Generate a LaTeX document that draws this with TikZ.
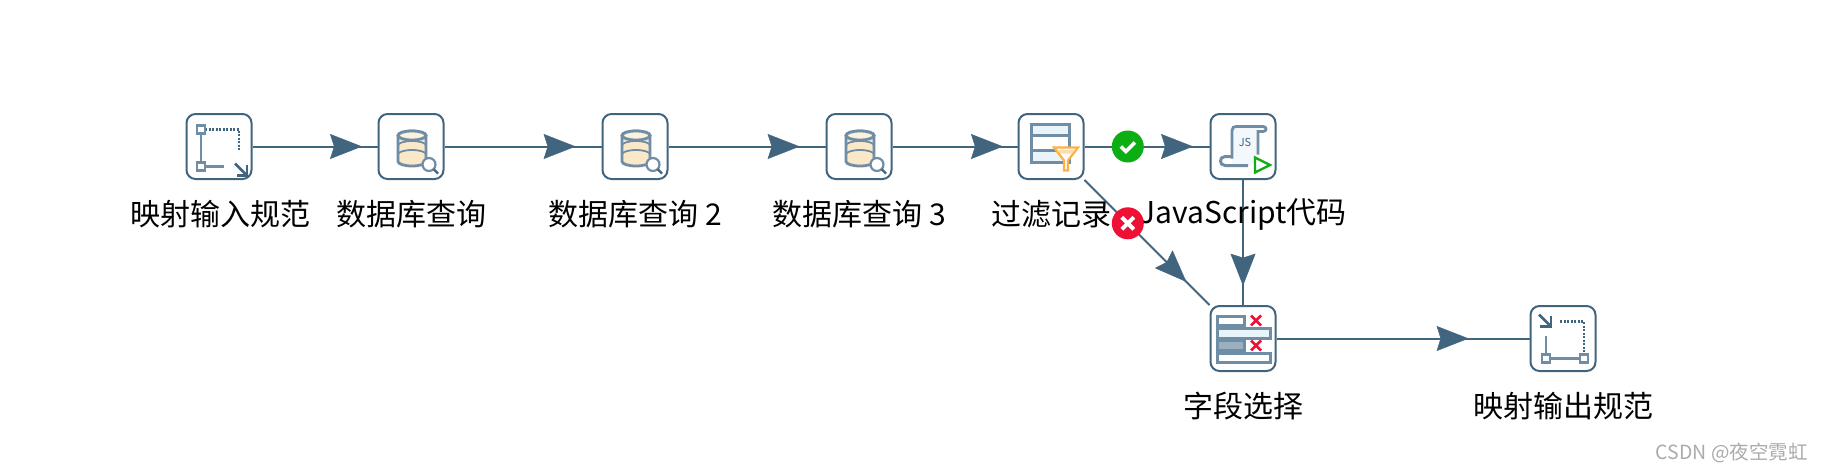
\documentclass[tikz,border=0pt]{standalone}
\usepackage{fontspec}
\setmainfont{Noto Sans CJK SC}
\usetikzlibrary{arrows.meta,decorations.markings,calc}
\definecolor{steel}{HTML}{41647F}
\definecolor{soft}{HTML}{6F8DA5}
\definecolor{cream}{HTML}{FBE8C8}
\definecolor{pale}{HTML}{E9F3FA}
\definecolor{okgreen}{HTML}{0DAE14}
\definecolor{badred}{HTML}{EE1135}
\definecolor{funnel}{HTML}{FDB045}
\tikzset{
  stepbox/.style={draw=steel,line width=2pt,rounded corners=9pt,fill=white,minimum width=65pt,minimum height=65pt,inner sep=0pt},
  steplabel/.style={font=\fontsize{30}{36}\selectfont,text=black,inner sep=0pt,anchor=center},
  conn/.style={draw=steel,line width=2pt},
  badge/.style={circle,minimum size=32pt,inner sep=0pt},
  iconline/.style={draw=soft,line width=2.5pt},
  dots/.style={draw=steel,line width=2.5pt,dash pattern=on 2pt off 1.5pt},
  handlebox/.style={draw=soft,line width=2.8pt,fill=white},
}
\newcommand{\linkhead}[3]{%
  \path[postaction={decorate},decoration={markings,mark=at position #3 with {\arrow{Stealth[length=32pt,width=25pt,inset=4pt,color=steel]}}}] (#1.center) -- (#2.center);}
\newcommand{\link}[3]{\draw[conn] (#1) -- (#2);\linkhead{#1}{#2}{#3}}
\newcommand{\dbicon}[1]{\begin{scope}[shift={(#1.center)}]
  \filldraw[fill=cream,draw=soft,line width=2.8pt] (-13,-11) arc[start angle=180,end angle=360,x radius=14,y radius=4.5] -- (15,15) arc[start angle=0,end angle=180,x radius=14,y radius=4.5] -- cycle;
  \filldraw[fill=cream!60,draw=soft,line width=2.8pt] (1,-11) ellipse[x radius=14,y radius=4.5];
  \draw[draw=soft,line width=1.8pt] (-13,-1) arc[start angle=180,end angle=360,x radius=14,y radius=4.5];
  \draw[draw=soft,line width=1.8pt] (-13,8) arc[start angle=180,end angle=360,x radius=14,y radius=4.5];
  \filldraw[fill=white,draw=soft,line width=2.2pt] (18,18) circle[radius=6.5];
  \draw[draw=steel,line width=2.4pt] (22.5,22.5) -- (27,27);
\end{scope}}
\begin{document}
\begin{tikzpicture}[x=1pt,y=-1pt]
\fill[white] (0,0) rectangle (1824,471);
\useasboundingbox (0,0) rectangle (1824,471);
\node[stepbox] (s1) at (219,146.5) {};
\node[stepbox] (s2) at (411,146.5) {};
\node[stepbox] (s3) at (635,146.5) {};
\node[stepbox] (s4) at (859,146.5) {};
\node[stepbox] (s5) at (1051,146.5) {};
\node[stepbox] (s6) at (1243,146.5) {};
\node[stepbox] (s7) at (1243,338.5) {};
\node[stepbox] (s8) at (1563,338.5) {};
\link{s1}{s2}{.745}
\link{s2}{s3}{.735}
\link{s3}{s4}{.735}
\link{s4}{s5}{.75}
\link{s5}{s6}{.74}
\link{s5}{s7}{.705}
\link{s6}{s7}{.725}
\link{s7}{s8}{.705}
\node[steplabel] (l1) at (220,214) {映射输入规范};
\node[steplabel] (l2) at (411,214) {数据库查询};
\node[steplabel] (l3) at (635,214) {数据库查询 2};
\node[steplabel] (l4) at (859,214) {数据库查询 3};
\node[steplabel] (l5) at (1051,214) {过滤记录};
\node[steplabel] (l6) at (1243,214) {JavaScript代码};
\node[steplabel] (l7) at (1243,406) {字段选择};
\node[steplabel] (l8) at (1563,406) {映射输出规范};
% input icon
\begin{scope}[shift={(s1.center)}]
  \draw[iconline] (-18,-17) -- (-18,20) -- (5,20);
  \draw[dots] (-14,-17) -- (20,-17) -- (20,5);
  \filldraw[handlebox] (-22,-21) rectangle (-14,-13);
  \filldraw[handlebox] (-22,16) rectangle (-14,24);
  \draw[steel,line width=2.5pt] (16,17) -- (27,28);
  \draw[steel,line width=2.5pt] (28,18) -- (28,29) -- (18,29);
\end{scope}
\dbicon{s2}\dbicon{s3}\dbicon{s4}
% filter icon
\begin{scope}[shift={(s5.center)}]
  \fill[pale] (-20,-22) rectangle (18,16);
  \fill[white] (-20,-11) rectangle (18,4);
  \draw[soft,line width=3pt] (-20,-22) rectangle (18,16);
  \draw[soft,line width=2.4pt] (-20,-11) -- (18,-11) (-20,4) -- (18,4);
  \filldraw[fill=white,draw=funnel,line width=2.2pt] (3,1) -- (27,1) -- (17,14) -- (17,24) -- (13,24) -- (13,14) -- cycle;
  \fill[funnel!45] (6,3) -- (24,3) -- (21,7) -- (9,7) -- cycle;
\end{scope}
% script icon
\begin{scope}[shift={(s6.center)}]
  \fill[pale!60] (-11,-20) -- (15,-20) -- (15,14) -- (5,19) -- (-11,19) -- cycle;
  \draw[soft,line width=2.8pt] (-11,12) -- (-11,-16) .. controls (-11,-19) and (-9,-20) .. (-7,-20) -- (20,-20) .. controls (24,-20) and (24,-15) .. (20,-15) -- (15,-15) -- (15,8);
  \draw[soft,line width=3pt] (5,19) -- (-18,19) .. controls (-24,19) and (-24,10) .. (-18,10) -- (-11,10);
  \node[font=\fontsize{11}{11}\selectfont,text=steel,inner sep=0pt] (jsmark) at (2,-4) {JS};
  \filldraw[fill=white,draw=okgreen,line width=2.4pt] (12,11) -- (12,26) -- (27,18.5) -- cycle;
\end{scope}
% select icon
\begin{scope}[shift={(s7.center)}]
  \filldraw[fill=white,draw=soft,line width=3pt] (-26,-22) rectangle (1,-13);
  \filldraw[fill=pale,draw=soft,line width=3pt] (-26,-10) rectangle (27,0);
  \filldraw[fill=soft!70,draw=soft,line width=3pt] (-26,2) rectangle (1,12);
  \filldraw[fill=white,draw=soft,line width=3pt] (-26,15) rectangle (27,24);
  \draw[badred,line width=2.8pt] (8,-23) -- (18,-13) (18,-23) -- (8,-13);
  \draw[badred,line width=2.8pt] (8,2) -- (18,12) (18,2) -- (8,12);
\end{scope}
% output icon
\begin{scope}[shift={(s8.center)}]
  \draw[iconline] (-17,-3) -- (-17,20) -- (20,20);
  \draw[dots] (-3,-17) -- (21,-17) -- (21,15);
  \filldraw[handlebox] (-21,16) rectangle (-13,24);
  \filldraw[handlebox] (17,16) rectangle (25,24);
  \draw[steel,line width=2.5pt] (-24,-24) -- (-13,-13);
  \draw[steel,line width=2.5pt] (-12,-23) -- (-12,-12) -- (-23,-12);
\end{scope}
% status badges
\node[badge,fill=okgreen] (ok) at ($(s5.center)!.4!(s6.center)$) {};
\node[badge,fill=badred] (bad) at ($(s5.center)!.4!(s7.center)$) {};
\draw[white,line width=3.6pt] ($(ok)+(-7,0)$) -- ($(ok)+(-2,5)$) -- ($(ok)+(7,-4)$);
\draw[white,line width=4pt] ($(bad)+(-6,-6)$) -- ($(bad)+(6,6)$) ($(bad)+(6,-6)$) -- ($(bad)+(-6,6)$);
\node[font=\fontsize{19.5}{22}\selectfont,text=black!33,inner sep=0pt,anchor=east] (wm) at (1808,453) {CSDN @夜空霓虹};
\end{tikzpicture}
\end{document}
